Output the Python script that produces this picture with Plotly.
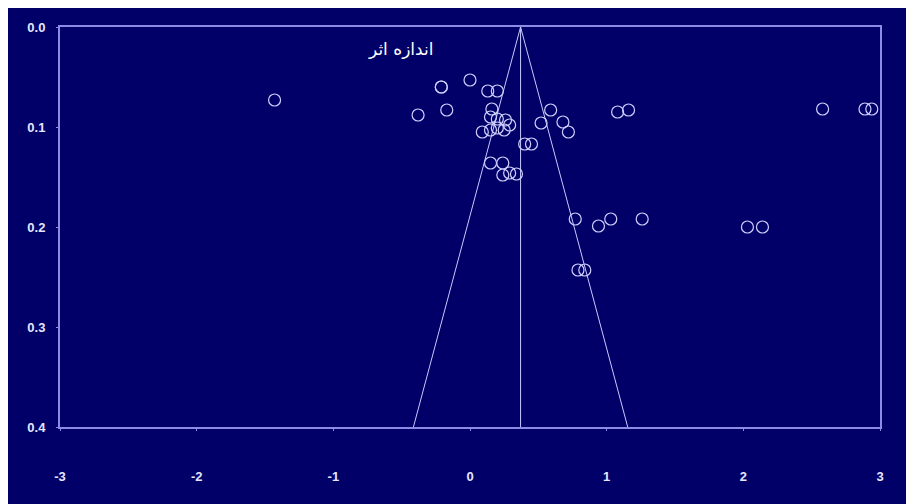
import plotly.graph_objects as go

# Study effect sizes (x) and standard errors (y)
effect = [-1.43, -0.21, -0.21, 0.00, 0.13, 0.20, -0.38, -0.17, 0.16,
          0.15, 0.20, 0.26, 0.09, 0.15, 0.20, 0.25, 0.29,
          0.40, 0.45, 0.15, 0.24, 0.24, 0.29, 0.34,
          0.59, 0.52, 0.68, 0.72, 1.08, 1.16,
          0.77, 0.94, 1.03, 1.26, 2.03, 2.14, 0.79, 0.84,
          2.58, 2.89, 2.94]
std_err = [0.073, 0.060, 0.060, 0.053, 0.064, 0.064, 0.088, 0.083, 0.082,
           0.090, 0.092, 0.093, 0.105, 0.103, 0.101, 0.103, 0.098,
           0.117, 0.117, 0.136, 0.136, 0.148, 0.146, 0.147,
           0.083, 0.096, 0.095, 0.105, 0.085, 0.083,
           0.192, 0.199, 0.192, 0.192, 0.200, 0.200, 0.243, 0.243,
           0.082, 0.082, 0.082]

pooled_effect = 0.37
funnel_se = [0.4, 0.0, 0.4]
funnel_x = [pooled_effect - 1.96 * 0.4, pooled_effect, pooled_effect + 1.96 * 0.4]

x_ticks = [-3, -2, -1, 0, 1, 2, 3]
y_ticks = [0.0, 0.1, 0.2, 0.3, 0.4]
label_text = "اندازه اثر"

navy = "#000068"
line_col = "#8c8ce6"
light = "#c8c8ff"

fig = go.Figure()

fig.add_trace(go.Scatter(x=funnel_x, y=funnel_se, mode="lines",
                         line=dict(color=light, width=1), hoverinfo="skip"))
fig.add_trace(go.Scatter(x=[pooled_effect, pooled_effect], y=[0.0, 0.4], mode="lines",
                         line=dict(color=light, width=1), hoverinfo="skip"))
fig.add_trace(go.Scatter(x=effect, y=std_err, mode="markers",
                         marker=dict(symbol="circle-open", size=12,
                                     color="#d0d0ff", line=dict(width=1.2, color="#d0d0ff"))))
fig.add_trace(go.Scatter(x=[pooled_effect], y=[0.4126], mode="markers", cliponaxis=False,
                         marker=dict(symbol="diamond-tall", size=9, color="white")))

fig.add_annotation(x=-0.51, y=0.022, xref="x", yref="y", text=label_text, showarrow=False,
                   font=dict(family="DejaVu Sans", size=17, color="white"))

tickfont = dict(family="Liberation Sans Narrow, Arial Narrow, sans-serif", size=13,
                color="#e6e6ff", weight="bold")

fig.update_xaxes(range=[-3, 3], tickvals=x_ticks, ticktext=[str(v) for v in x_ticks],
                 showgrid=False, zeroline=False, showline=True, mirror=True,
                 linecolor=line_col, linewidth=2, ticks="outside", ticklen=2,
                 tickcolor=line_col, ticklabelstandoff=34, tickfont=tickfont)
fig.update_yaxes(range=[0.4, 0.0], tickvals=y_ticks, ticktext=["%.1f" % v for v in y_ticks],
                 showgrid=False, zeroline=False, showline=True, mirror=True,
                 linecolor=line_col, linewidth=2, ticks="outside", ticklen=2,
                 tickcolor=line_col, ticklabelstandoff=8, tickfont=tickfont)

fig.update_layout(width=914, height=504, showlegend=False,
                  paper_bgcolor=navy, plot_bgcolor=navy,
                  margin=dict(l=52, r=42, t=17, b=85))

fig.write_html("out.html")
